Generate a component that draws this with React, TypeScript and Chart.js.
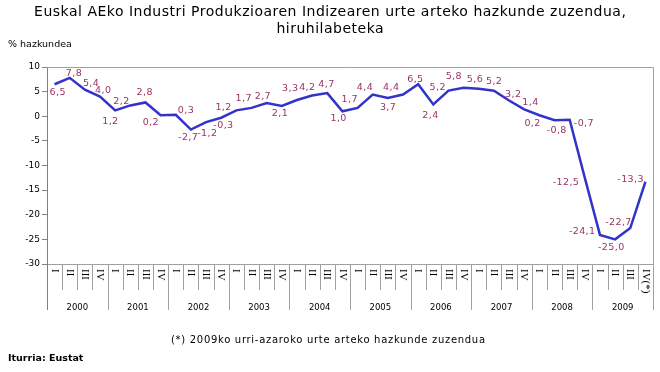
import React, { useEffect, useRef } from "react";
import { Chart, registerables } from "chart.js";

Chart.register(...registerables);

const years = ["2000", "2001", "2002", "2003", "2004", "2005", "2006", "2007", "2008", "2009"];
const quarters = ["I", "II", "III", "IV"];
const categories: string[] = years.flatMap((yr) => quarters.map((q) => `${yr} ${q}`));
const quarterTickLabels: string[] = years.flatMap((yr, yi) =>
  quarters.map((q, qi) => (yi === years.length - 1 && qi === 3 ? "IV(*)" : q))
);

const growth = [
  6.5, 7.8, 5.4, 4.0,
  1.2, 2.2, 2.8, 0.2,
  0.3, -2.7, -1.2, -0.3,
  1.2, 1.7, 2.7, 2.1,
  3.3, 4.2, 4.7, 1.0,
  1.7, 4.4, 3.7, 4.4,
  6.5, 2.4, 5.2, 5.8,
  5.6, 5.2, 3.2, 1.4,
  0.2, -0.8, -0.7, -12.5,
  -24.1, -25.0, -22.7, -13.3,
];

const yTicks = [10, 5, 0, -5, -10, -15, -20, -25, -30];

const titleLines = [
  "Euskal AEko Industri Produkzioaren Indizearen urte arteko hazkunde zuzendua,",
  "hiruhilabeteka",
];
const yUnit = "% hazkundea";
const footnote = "(*) 2009ko urri-azaroko urte arteko hazkunde zuzendua";
const source = "Iturria: Eustat";

// style: data-label offsets (label centre relative to its point, px)
const labelOffsets: [number, number][] = [
  [3, 8], [4, -4], [6, -6], [3, -6],
  [-5, 11], [-9, -4], [-1, -10], [-10, 7],
  [10, -4], [-3, 8], [1, 11], [2, 8],
  [-13, -3], [-8, -9], [-4, -6], [-2, 8],
  [-7, -11], [-5, -8], [-1, -9], [-4, 7],
  [-8, -8], [-8, -7], [0, 10], [-12, -7],
  [-3, -5], [-3, 11], [-11, -3], [-10, -11],
  [-4, -9], [0, -9], [4, -6], [6, -7],
  [-7, 8], [2, 10], [14, 4], [-19, 5],
  [-18, -3], [-4, 8], [-12, -6], [-15, -2],
];

const FONT = '"DejaVu Sans", Verdana, sans-serif';
const fmt = (v: number) => v.toFixed(1).replace(".", ",");

function spacedText(ctx: any, text: string, x: number, y: number, spacing: number, align: string) {
  ctx.save();
  (ctx as any).letterSpacing = `${spacing}px`;
  const w = ctx.measureText(text).width - spacing;
  ctx.textAlign = "left";
  const sx = align === "center" ? x - w / 2 : x;
  ctx.fillText(text, sx, y);
  ctx.restore();
}

const decorPlugin = {
  id: "decor",
  beforeDatasetsDraw(chart: any) {
    const { ctx, chartArea: a } = chart;
    ctx.save();
    ctx.strokeStyle = "#a0a0a0";
    ctx.lineWidth = 1;
    ctx.beginPath();
    ctx.moveTo(a.left, a.top + 0.5);
    ctx.lineTo(a.right + 0.5, a.top + 0.5);
    ctx.lineTo(a.right + 0.5, a.bottom + 0.5);
    ctx.lineTo(a.left, a.bottom + 0.5);
    ctx.stroke();
    ctx.restore();
  },
  afterDatasetsDraw(chart: any) {
    const { ctx } = chart;
    const meta = chart.getDatasetMeta(0);
    ctx.save();
    ctx.font = `9.5px ${FONT}`;
    ctx.fillStyle = "#993366";
    ctx.textBaseline = "middle";
    meta.data.forEach((pt: any, i: number) => {
      const [dx, dy] = labelOffsets[i] || [0, -8];
      spacedText(ctx, fmt(growth[i]), pt.x + dx, pt.y + dy, 0.4, "center");
    });
    ctx.restore();
  },
  afterDraw(chart: any) {
    const { ctx, chartArea: a, scales } = chart;
    const x = scales.x;
    const n = categories.length;
    const step = x.getPixelForValue(1) - x.getPixelForValue(0);
    ctx.save();
    // separators below the axis
    ctx.strokeStyle = "#a0a0a0";
    ctx.lineWidth = 1;
    for (let i = 1; i <= n; i++) {
      const px = Math.round(x.getPixelForValue(0) - step / 2 + i * step) + 0.5;
      const len = i % 4 === 0 ? 46 : 26;
      ctx.beginPath();
      ctx.moveTo(px, a.bottom);
      ctx.lineTo(px, a.bottom + len);
      ctx.stroke();
    }
    // left axis extension
    ctx.strokeStyle = "#808080";
    ctx.beginPath();
    ctx.moveTo(a.left + 0.5, a.bottom);
    ctx.lineTo(a.left + 0.5, a.bottom + 46);
    ctx.stroke();

    // quarter labels (rotated)
    ctx.fillStyle = "#000";
    ctx.font = `11px "Liberation Serif", serif`;
    ctx.textAlign = "left";
    ctx.textBaseline = "middle";
    quarterTickLabels.forEach((lab, i) => {
      const px = x.getPixelForValue(i);
      ctx.save();
      ctx.translate(px, a.bottom + 5);
      ctx.rotate(Math.PI / 2);
      ctx.fillText(lab, 0, 0);
      ctx.restore();
    });
    // year labels
    ctx.font = `8.5px ${FONT}`;
    ctx.textAlign = "center";
    years.forEach((yr, yi) => {
      const px = (x.getPixelForValue(yi * 4) + x.getPixelForValue(yi * 4 + 3)) / 2;
      ctx.fillText(yr, px, a.bottom + 44);
    });

    // titles and texts
    ctx.font = `14px ${FONT}`;
    spacedText(ctx, titleLines[0], 330, 12, 0.5, "center");
    spacedText(ctx, titleLines[1], 330, 29, 0.5, "center");
    ctx.font = `9.5px ${FONT}`;
    ctx.textAlign = "left";
    ctx.fillText(yUnit, 8, 45);
    ctx.font = `10px ${FONT}`;
    spacedText(ctx, footnote, 328, 340, 0.7, "center");
    ctx.font = `bold 9.5px ${FONT}`;
    ctx.textAlign = "left";
    ctx.fillText(source, 8, 359);
    ctx.restore();
  },
};

export default function App() {
  const ref = useRef<HTMLCanvasElement | null>(null);
  useEffect(() => {
    document.body.style.margin = "0";
    if (!ref.current) return;
    const chart = new Chart(ref.current, {
      type: "line",
      data: {
        labels: categories,
        datasets: [
          {
            data: growth,
            borderColor: "#3333cc",
            borderWidth: 2.5,
            pointRadius: 0,
            tension: 0,
            fill: false,
          },
        ],
      },
      options: {
        animation: false,
        responsive: false,
        devicePixelRatio: 1,
        layout: { padding: { top: 67, right: 7, bottom: 108, left: 0 } },
        plugins: { legend: { display: false }, title: { display: false }, tooltip: { enabled: false } },
        scales: {
          x: { type: "category", offset: true, display: false },
          y: {
            min: -30,
            max: 10,
            afterFit: (s: any) => {
              s.width = 47;
            },
            afterBuildTicks: (s: any) => {
              s.ticks = yTicks.map((v) => ({ value: v }));
            },
            ticks: {
              color: "#000",
              font: { family: FONT, size: 9 },
              padding: 2,
            },
            grid: { drawOnChartArea: false, drawTicks: true, tickLength: 5, color: "#808080" },
            border: { display: true, color: "#808080" },
          },
        },
      },
      plugins: [decorPlugin],
    });
    return () => chart.destroy();
  }, []);
  return (
    <div style={{ width: 660, height: 372 }}>
      <canvas ref={ref} width={660} height={372} style={{ display: "block" }} />
    </div>
  );
}
